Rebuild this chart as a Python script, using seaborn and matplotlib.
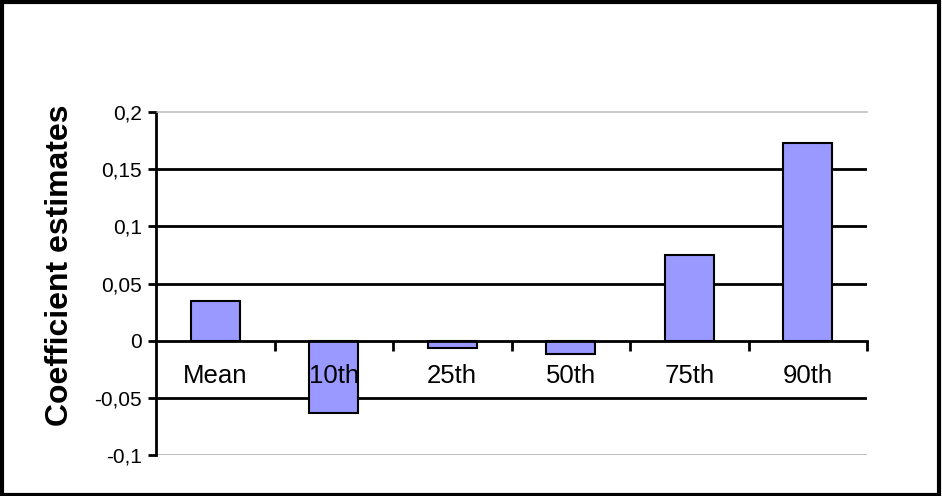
import matplotlib
matplotlib.use("Agg")
import matplotlib.pyplot as plt
import matplotlib.ticker as mticker
import seaborn as sns
import pandas as pd
import numpy as np

categories = ["Mean", "10th", "25th", "50th", "75th", "90th"]
estimates = [0.035, -0.063, -0.006, -0.012, 0.075, 0.173]
y_ticks = [-0.1, -0.05, 0, 0.05, 0.1, 0.15, 0.2]
y_tick_labels = ["-0,1", "-0,05", "0", "0,05", "0,1", "0,15", "0,2"]

sns.set_style("white")
plt.rcParams["font.family"] = ["Liberation Sans", "DejaVu Sans"]
plt.rcParams["text.color"] = "black"
plt.rcParams["axes.labelcolor"] = "black"

df = pd.DataFrame({"quantile": categories, "estimate": estimates})

fig = plt.figure(figsize=(9.42, 4.96), dpi=100)
ax = fig.add_axes([156 / 942, 1 - 455 / 496, (867 - 156) / 942, (455 - 112) / 496])

sns.barplot(data=df, x="quantile", y="estimate", order=categories,
            color="#9999FF", saturation=1, width=0.41,
            edgecolor="black", linewidth=1.5, ax=ax, zorder=2)

ax.set_xlim(-0.5, len(categories) - 0.5)
ax.set_ylim(-0.1, 0.2)
ax.set_axisbelow(False)

# horizontal gridlines behind the bars
for v in [-0.05, 0.05, 0.1, 0.15]:
    ax.axhline(v, color="black", lw=2, zorder=1)
ax.axhline(-0.1, color="#b0b0b0", lw=1.2, zorder=1)

ax.spines["right"].set_visible(False)
ax.spines["top"].set_color("#c0c0c0")
ax.spines["top"].set_linewidth(1.2)
ax.spines["left"].set_linewidth(2)
ax.spines["left"].set_color("black")
ax.spines["bottom"].set_position(("data", 0))
ax.spines["bottom"].set_linewidth(2)
ax.spines["bottom"].set_color("black")
ax.spines["bottom"].set_zorder(4)

ax.set_yticks(y_ticks)
ax.set_yticklabels(y_tick_labels)
ax.tick_params(axis="y", direction="out", length=6, width=2, left=True,
               labelsize=15, pad=4, colors="black")

# category labels at centers, tick marks at boundaries
ax.set_xticks(range(len(categories)))
ax.set_xticklabels(categories)
ax.xaxis.set_minor_locator(mticker.FixedLocator(np.arange(0.5, len(categories), 1.0)))
ax.tick_params(axis="x", which="major", length=0, labelsize=18.5, pad=17,
               labelcolor="black")
ax.tick_params(axis="x", which="minor", direction="out", length=7, width=2,
               bottom=True, color="black")

ax.set_xlabel("")
ax.set_ylabel("Coefficient estimates", fontsize=23, fontweight="bold", color="black")
ax.yaxis.set_label_coords((75 - 156) / (867 - 156), (455 - 265) / (455 - 112))

# outer frame
fig.patches.append(plt.Rectangle((0.002, 0.003), 0.995, 0.993, transform=fig.transFigure,
                                 fill=False, edgecolor="black", lw=3))

fig.savefig("out.png", dpi=100)
